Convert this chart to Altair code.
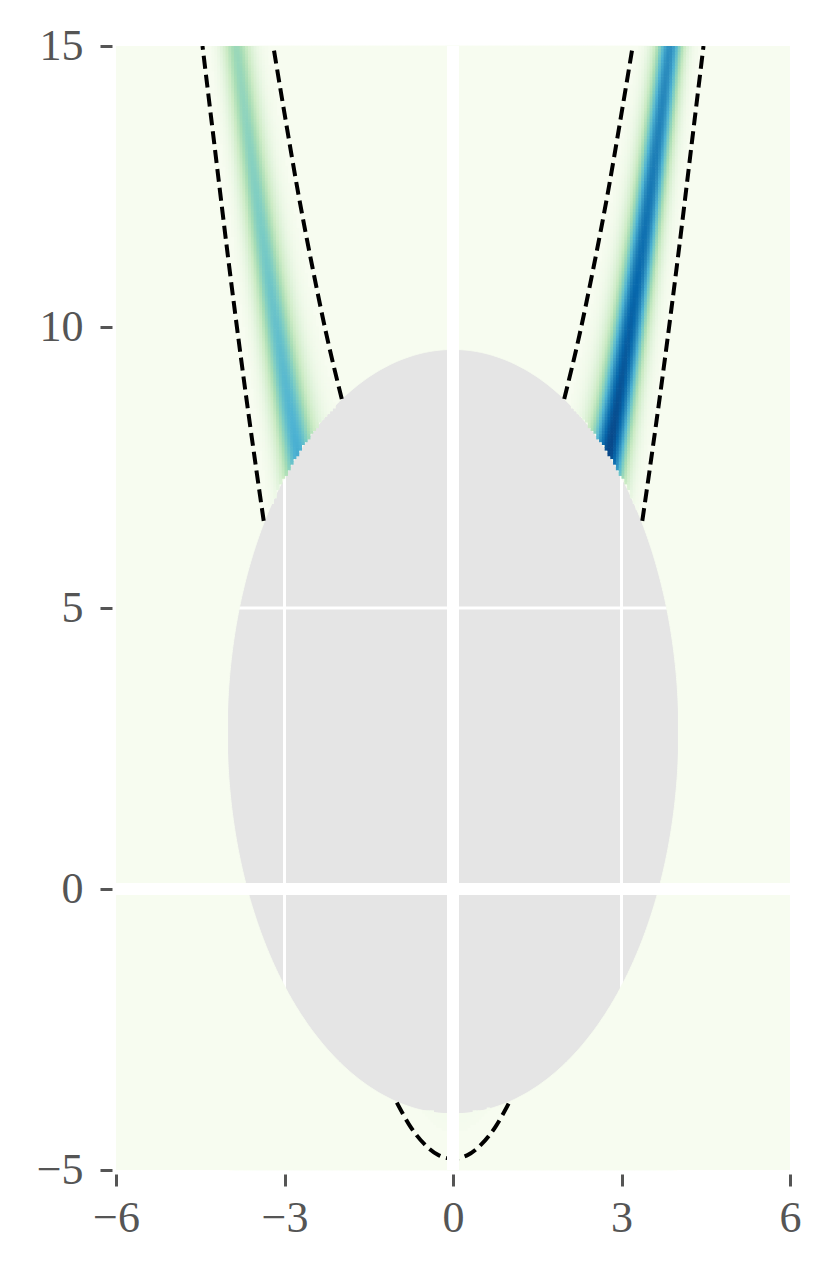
import numpy as np
import pandas as pd
import altair as alt

# ---------------- values ----------------
X_DOMAIN = [-6, 6]
Y_DOMAIN = [-5, 15]
X_TICKS = [-6, -3, 0, 3, 6]
Y_TICKS = [-5, 0, 5, 10, 15]
GRID_X = [-3, 3]            # thin white grid lines (visible only in the grey region)
GRID_Y = [5, 10]
ZERO_LINES = [0]            # thick white lines at x = 0 and y = 0

# grey (masked) elliptical region
ELL_CX = 0.0
ELL_CY = 2.8
ELL_RX = 4.02
ELL_RY = 6.8

# density band: centred on y = x^2 + offset
BAND_OFFSET = 0.0
BAND_SIGMA = 1.4
BAND_PEAK = 1.2
BAND_PEAK_X = 0.76
BAND_SPREAD_X = 3.17
CELL = 0.05
MIN_SHOWN = 0.01

# GnBu colour map
GNBU = ["#f7fcf0", "#e0f3db", "#ccebc5", "#a8ddb5", "#7bccc4",
        "#4eb3d3", "#2b8cbe", "#0868ac", "#084081"]
GNBU_STOPS = [0, 0.125, 0.25, 0.375, 0.5, 0.625, 0.75, 0.875, 1.0]

# dashed curves
inner_right_x = [1.98, 2.25, 2.5, 2.75, 3.0, 3.2]
inner_right_y = [8.72, 9.85, 11.05, 12.35, 13.8, 15.0]
inner_left_x = [-1.98, -2.25, -2.5, -2.75, -3.0, -3.2]
inner_left_y = [8.72, 9.85, 11.05, 12.35, 13.8, 15.0]
outer_right_x = [3.37, 3.5, 3.75, 4.0, 4.25, 4.46]
outer_right_y = [6.55, 7.45, 9.26, 11.2, 13.26, 15.0]
outer_left_x = [-3.37, -3.5, -3.75, -4.0, -4.25, -4.46]
outer_left_y = [6.55, 7.45, 9.26, 11.2, 13.26, 15.0]
bottom_x = [-1.0, -0.75, -0.5, -0.25, 0.0, 0.25, 0.5, 0.75, 1.0]
bottom_y = [-3.8, -4.24, -4.55, -4.74, -4.8, -4.74, -4.55, -4.24, -3.8]

BG = GNBU[0]

# ---------------- tables ----------------
t = np.linspace(np.pi, 0, 721)
ex = ELL_CX + ELL_RX * np.cos(t)
etop = ELL_CY + ELL_RY * np.sin(t)
ebot = ELL_CY - ELL_RY * np.sin(t)

df_up = pd.DataFrame({"x": ex, "y": etop, "y2": Y_DOMAIN[1]})
df_low = pd.DataFrame({"x": ex, "y": Y_DOMAIN[0], "y2": ebot})
df_strips = pd.DataFrame({
    "x": [X_DOMAIN[0], ELL_CX + ELL_RX - 0.015],
    "x2": [ELL_CX - ELL_RX + 0.015, X_DOMAIN[1]],
    "y": [Y_DOMAIN[0]] * 2,
    "y2": [Y_DOMAIN[1]] * 2,
})

xc = np.arange(X_DOMAIN[0] + CELL / 2, X_DOMAIN[1], CELL)
yc = np.arange(Y_DOMAIN[0] + CELL / 2, Y_DOMAIN[1], CELL)
GX, GY = np.meshgrid(xc, yc)
amp = BAND_PEAK * np.exp(-((GX - BAND_PEAK_X) ** 2) / (2 * BAND_SPREAD_X ** 2))
val = amp * np.exp(-((GY - GX ** 2 - BAND_OFFSET) ** 2) / (2 * BAND_SIGMA ** 2))
inside = ((GX - ELL_CX) / ELL_RX) ** 2 + ((GY - ELL_CY) / ELL_RY) ** 2 < 1
keep = (~inside) & (val >= MIN_SHOWN)
df_cells = pd.DataFrame({
    "x": GX[keep] - CELL / 2,
    "x2": GX[keep] + CELL / 2 + 0.012,
    "y": GY[keep] - CELL / 2,
    "y2": GY[keep] + CELL / 2 + 0.012,
    "v": val[keep],
})

curves = []
for name, xs, ys in [("inner_r", inner_right_x, inner_right_y),
                     ("inner_l", inner_left_x, inner_left_y),
                     ("outer_r", outer_right_x, outer_right_y),
                     ("outer_l", outer_left_x, outer_left_y),
                     ("bottom", bottom_x, bottom_y)]:
    for k, (a, b) in enumerate(zip(xs, ys)):
        curves.append({"curve": name, "i": k, "x": a, "y": b})
df_curves = pd.DataFrame(curves)

# ---------------- encodings ----------------
FONT = "Liberation Serif"
LABEL = "#555555"
XS = alt.Scale(domain=X_DOMAIN, nice=False, zero=False)
YS = alt.Scale(domain=Y_DOMAIN, nice=False, zero=False)
minus_expr = "datum.value < 0 ? '\u2212' + abs(datum.value) : '' + datum.value"
XAX = alt.Axis(values=X_TICKS, grid=False, domain=False, ticks=True, tickColor=LABEL,
               tickWidth=3, tickSize=12, offset=4, labelFont=FONT, labelFontSize=44,
               labelColor=LABEL, labelPadding=10, labelFlush=False, labelOverlap=False,
               labelExpr=minus_expr, title=None)
YAX = alt.Axis(values=Y_TICKS, grid=False, domain=False, ticks=True, tickColor=LABEL,
               tickWidth=3, tickSize=12, offset=4, labelFont=FONT, labelFontSize=44,
               labelColor=LABEL, labelPadding=17, labelFlush=False, labelOverlap=False,
               labelExpr=minus_expr, title=None)


def X(f="x"):
    return alt.X(f + ":Q", scale=XS, axis=XAX)


def Y(f="y"):
    return alt.Y(f + ":Q", scale=YS, axis=YAX)


grid_v = alt.Chart(pd.DataFrame({"x": GRID_X})).mark_rule(color="white", strokeWidth=3).encode(x=X())
grid_h = alt.Chart(pd.DataFrame({"y": GRID_Y})).mark_rule(color="white", strokeWidth=3).encode(y=Y())

strips = alt.Chart(df_strips).mark_rect(color=BG).encode(
    x=X(), x2="x2:Q", y=Y(), y2="y2:Q")
area_up = alt.Chart(df_up).mark_area(color=BG, stroke=BG, strokeWidth=1).encode(
    x=X(), y=Y(), y2="y2:Q")
area_low = alt.Chart(df_low).mark_area(color=BG, stroke=BG, strokeWidth=1).encode(
    x=X(), y=Y(), y2="y2:Q")

cells = alt.Chart(df_cells).mark_rect(clip=True).encode(
    x=X(), x2="x2:Q", y=Y(), y2="y2:Q",
    color=alt.Color("v:Q", scale=alt.Scale(domain=GNBU_STOPS, range=GNBU, clamp=True,
                                           interpolate="rgb"),
                    legend=None))

dashed = alt.Chart(df_curves).mark_line(
    color="black", strokeWidth=4, strokeDash=[13, 6], interpolate="monotone", clip=True
).encode(x=X(), y=Y(), detail="curve:N", order="i:Q")

zero_v = alt.Chart(pd.DataFrame({"x": ZERO_LINES})).mark_rule(color="white", strokeWidth=12).encode(x=X())
zero_h = alt.Chart(pd.DataFrame({"y": ZERO_LINES})).mark_rule(color="white", strokeWidth=12).encode(y=Y())

chart = alt.layer(grid_v, grid_h, strips, area_up, area_low, cells, dashed, zero_v, zero_h).properties(
    width=674, height=1124,
    padding={"left": 108, "top": 38, "right": 30, "bottom": 90},
    autosize=alt.AutoSizeParams(type="none"),
).configure_view(fill="#e5e5e5", strokeWidth=0, stroke=None)

chart.save("out.html", embed_options={"renderer": "svg", "actions": False})
